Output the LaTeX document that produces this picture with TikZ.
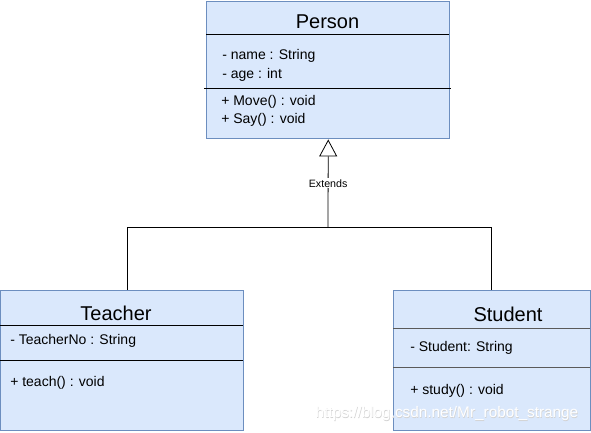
\documentclass[tikz,border=0pt]{standalone}
\usepackage{fontspec}
\setmainfont{Liberation Sans}
\usepackage{tikz}
\usetikzlibrary{arrows.meta,positioning}
\definecolor{kutuDolgu}{HTML}{DAE8FC}
\definecolor{kutuCizgi}{HTML}{6C8EBF}
\definecolor{ayracGri}{HTML}{5A5A5A}

\begin{document}
\begin{tikzpicture}[x=0.75pt,y=-0.75pt,
  classbox/.style={draw=kutuCizgi,fill=kutuDolgu,line width=1.1pt,anchor=north west,inner sep=0},
  classname/.style={font=\fontsize{15}{17}\selectfont,inner sep=0},
  member/.style={anchor=west,font=\fontsize{10.5}{12}\selectfont,inner sep=0},
  ayrac/.style={line width=0.7pt},
  baglanti/.style={line width=0.6pt}]
\useasboundingbox (0,0) rectangle (591,432);
% siniflar
\node[classbox,minimum width=182.25pt,minimum height=102.75pt] (person) at (206,1) {};
\node[classbox,minimum width=182.25pt,minimum height=105pt] (teacher) at (0,290) {};
\node[classbox,minimum width=147.75pt,minimum height=105pt] (student) at (393,290) {};
\draw[ayrac] (206,34)--(449,34);
\draw[ayrac] (204,88)--(451,88);
\draw[ayrac] (0,325)--(243,325);
\draw[ayrac] (0,360)--(243,360);
\draw[ayrac,ayracGri] (393,328)--(590,328);
\draw[ayrac,ayracGri] (393,367)--(590,367);
\node[classname] (personName) at (327.5,22) {Person};
\node[member] (pName) at (222,56) {- name : String};
\node[member] (pAge) at (222,75) {- age : int};
\node[member] (pMove) at (221,102) {+ Move() : void};
\node[member] (pSay) at (221,120) {+ Say() : void};
\node[classname] (teacherName) at (116,313) {Teacher};
\node[member] (tNo) at (10,341) {- TeacherNo : String};
\node[member] (tTeach) at (10,383) {+ teach() : void};
\node[classname] (studentName) at (508,314) {Student};
\node[member] (sStudent) at (410,348) {- Student: String};
\node[member] (sStudy) at (410,391) {+ study() : void};
% kalitim
\coordinate (birlesim) at (328,227);
\draw[baglanti,-{Triangle[open,length=12.75pt,width=13.5pt]}] (birlesim) -- node[fill=white,inner sep=1pt,font=\fontsize{8}{9}\selectfont] (extLabel) {Extends} (person.south);
\draw[baglanti] (birlesim) -| ([xshift=4.1pt]teacher.north);
\draw[baglanti] (birlesim) -| ([xshift=-0.4pt]student.north);
% filigran
\node[gray!35,font=\fontsize{11.5}{13}\selectfont,inner sep=0] (filigranGolge) at (447.5,414.5) {https://blog.csdn.net/Mr\_robot\_strange};
\node[white,font=\fontsize{11.5}{13}\selectfont,inner sep=0] (filigran) at (447,414) {https://blog.csdn.net/Mr\_robot\_strange};
\end{tikzpicture}
\end{document}
